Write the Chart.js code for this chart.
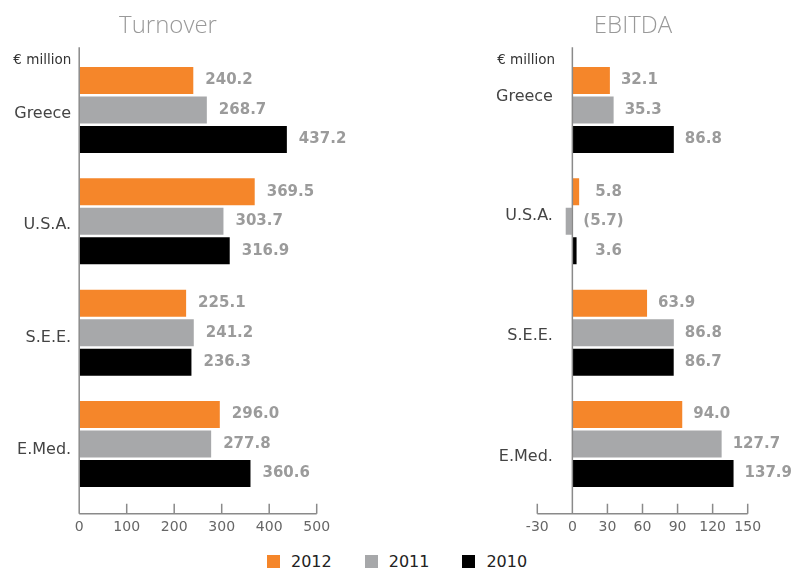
<!DOCTYPE html>
<html>
<head>
<meta charset="utf-8">
<title>Turnover / EBITDA</title>
<script src="https://cdn.jsdelivr.net/npm/chart.js@4.4.1/dist/chart.umd.min.js"></script>
<style>
  body { margin: 0; background: #fff; }
  #page { position: relative; width: 793px; height: 569px; overflow: hidden; font-family: "DejaVu Sans", sans-serif; }
  canvas { position: absolute; top: 0; }
  #turnoverChart { left: 0; }
  #ebitdaChart { left: 400px; }
  .title { position: absolute; top: 9px; line-height: 30px; font-family: "Open Sans", sans-serif; font-weight: 300; font-size: 24px; color: #999; white-space: nowrap; transform: translateX(-50%); }
  #legend { position: absolute; left: 267px; top: 551px; height: 20px; display: flex; align-items: center; font-size: 16px; color: #222; }
  #legend .item { display: flex; align-items: center; margin-right: 33px; }
  #legend .sw { width: 13px; height: 13px; margin-right: 11px; }
</style>
</head>
<body>
<div id="page">
  <canvas id="turnoverChart" width="400" height="545"></canvas>
  <canvas id="ebitdaChart" width="393" height="545"></canvas>
  <div class="title" style="left:168px">Turnover</div>
  <div class="title" style="left:633px">EBITDA</div>
  <div id="legend"></div>
</div>
<script>
// dati del grafico
var regions = ['Greece', 'U.S.A.', 'S.E.E.', 'E.Med.'];
var years = ['2012', '2011', '2010'];

var turnover2012 = [240.2, 369.5, 225.1, 296.0];
var turnover2011 = [268.7, 303.7, 241.2, 277.8];
var turnover2010 = [437.2, 316.9, 236.3, 360.6];

var ebitda2012 = [32.1, 5.8, 63.9, 94.0];
var ebitda2011 = [35.3, -5.7, 86.8, 127.7];
var ebitda2010 = [86.8, 3.6, 86.7, 137.9];

var turnoverTicks = [0, 100, 200, 300, 400, 500];
var ebitdaTicks = [-30, 0, 30, 60, 90, 120, 150];

var yearColors = ['#f5862a', '#a7a8aa', '#000000'];

// assi disegnati a mano (linea dello zero, tacche verso l'alto), valori e unita'
var decorPlugin = {
  id: 'decor',
  afterDatasetsDraw: function (chart, args, opts) {
    var ctx = chart.ctx;
    var area = chart.chartArea;
    var x = chart.scales.x;
    var zero = x.getPixelForValue(0);
    var axisY = area.bottom + opts.axisDrop;

    ctx.save();
    ctx.font = 'bold 15px "DejaVu Sans"';
    ctx.fillStyle = '#9b9b9b';
    ctx.textBaseline = 'middle';
    ctx.textAlign = 'left';
    chart.data.datasets.forEach(function (ds, i) {
      chart.getDatasetMeta(i).data.forEach(function (bar, j) {
        var v = ds.data[j];
        var text, lx;
        if (v < 0) {
          text = '(' + (-v).toFixed(1) + ')';
          lx = zero + opts.labelGap;
        } else {
          text = v.toFixed(1);
          lx = Math.max(bar.x + opts.labelGap, zero + opts.labelMin);
        }
        ctx.fillText(text, lx, bar.y);
      });
    });

    ctx.strokeStyle = '#8a8a8a';
    ctx.lineWidth = 1.5;
    ctx.beginPath();
    ctx.moveTo(zero, area.top - opts.lineRise);
    ctx.lineTo(zero, axisY);
    ctx.moveTo(x.left, axisY);
    ctx.lineTo(x.right, axisY);
    x.ticks.forEach(function (t) {
      var px = x.getPixelForValue(t.value);
      ctx.moveTo(px, axisY);
      ctx.lineTo(px, axisY - opts.tickUp);
    });
    ctx.stroke();

    ctx.font = '13.5px "DejaVu Sans"';
    ctx.fillStyle = '#333';
    ctx.textAlign = 'right';
    ctx.fillText('\u20ac million', area.left + opts.unitOffset, area.top + 6);
    ctx.restore();
  }
};

// le etichette delle regioni non sono centrate sui gruppi di barre:
// una riga vuota sopra o sotto, con interlinea scelta, le sposta di "shift" px
function shiftedLabels(shift) {
  return {
    callback: function (value, index) {
      var name = regions[index];
      return shift[index] >= 0 ? ['', name] : [name, ''];
    },
    font: function (c) {
      var lh = Math.max(Math.abs(shift[c.index] || 0) * 2, 0.5);
      return { family: 'DejaVu Sans', size: 16, lineHeight: lh + 'px' };
    }
  };
}

function barChart(canvasId, series, ticks, opts) {
  var ctx = document.getElementById(canvasId).getContext('2d');
  var datasets = [];
  for (var i = 0; i < years.length; i++) {
    datasets.push({
      label: years[i],
      data: series[i],
      backgroundColor: yearColors[i],
      categoryPercentage: 0.795,
      barPercentage: 0.915
    });
  }
  var labels = shiftedLabels(opts.labelShift);
  return new Chart(ctx, {
    type: 'bar',
    data: { labels: regions, datasets: datasets },
    options: {
      indexAxis: 'y',
      responsive: false,
      animation: false,
      layout: { padding: opts.padding },
      plugins: {
        legend: { display: false },
        title: { display: false },
        tooltip: { enabled: false },
        decor: opts.decor
      },
      scales: {
        x: {
          min: ticks[0],
          max: ticks[ticks.length - 1],
          afterBuildTicks: function (axis) {
            axis.ticks = ticks.map(function (v) { return { value: v }; });
          },
          border: { display: false },
          grid: { drawOnChartArea: false, drawTicks: true, tickLength: 15, color: 'rgba(0,0,0,0)' },
          ticks: { padding: 4, color: '#666', font: { family: 'DejaVu Sans', size: 14 } }
        },
        y: {
          afterFit: function (axis) { axis.width = opts.yWidth; },
          border: { display: false },
          grid: { display: false, drawTicks: false },
          ticks: {
            mirror: opts.mirror,
            crossAlign: opts.mirror ? 'far' : 'near',
            padding: opts.labelPad,
            color: '#444',
            font: labels.font,
            callback: labels.callback
          }
        }
      }
    },
    plugins: [decorPlugin]
  });
}

function buildLegend() {
  var legend = document.getElementById('legend');
  for (var i = 0; i < years.length; i++) {
    var item = document.createElement('div');
    item.className = 'item';
    var sw = document.createElement('span');
    sw.className = 'sw';
    sw.style.background = yearColors[i];
    var txt = document.createElement('span');
    txt.textContent = years[i];
    item.appendChild(sw);
    item.appendChild(txt);
    legend.appendChild(item);
  }
}

function init() {
  barChart('turnoverChart', [turnover2012, turnover2011, turnover2010], turnoverTicks, {
    padding: { top: 54.3, left: 0, right: 83.3, bottom: 5.5 },
    yWidth: 79.2,
    mirror: false,
    labelPad: 8,
    labelShift: [3.5, 4, 5.5, 6],
    decor: { axisDrop: 14, tickUp: 10, lineRise: 7, labelGap: 12, labelMin: 0, unitOffset: -8 }
  });
  // etichette specchiate: finiscono a destra del bordo sinistro (x = -30), vicino allo zero
  barChart('ebitdaChart', [ebitda2012, ebitda2011, ebitda2010], ebitdaTicks, {
    padding: { top: 54.3, left: 0, right: 45.3, bottom: 5.5 },
    yWidth: 137.3,
    mirror: true,
    labelPad: -41.3,
    labelShift: [-13, -5, 3, 12.5],
    decor: { axisDrop: 14, tickUp: 10, lineRise: 7, labelGap: 11, labelMin: 23, unitOffset: 17.7 }
  });
  buildLegend();
}

init();
</script>
</body>
</html>
